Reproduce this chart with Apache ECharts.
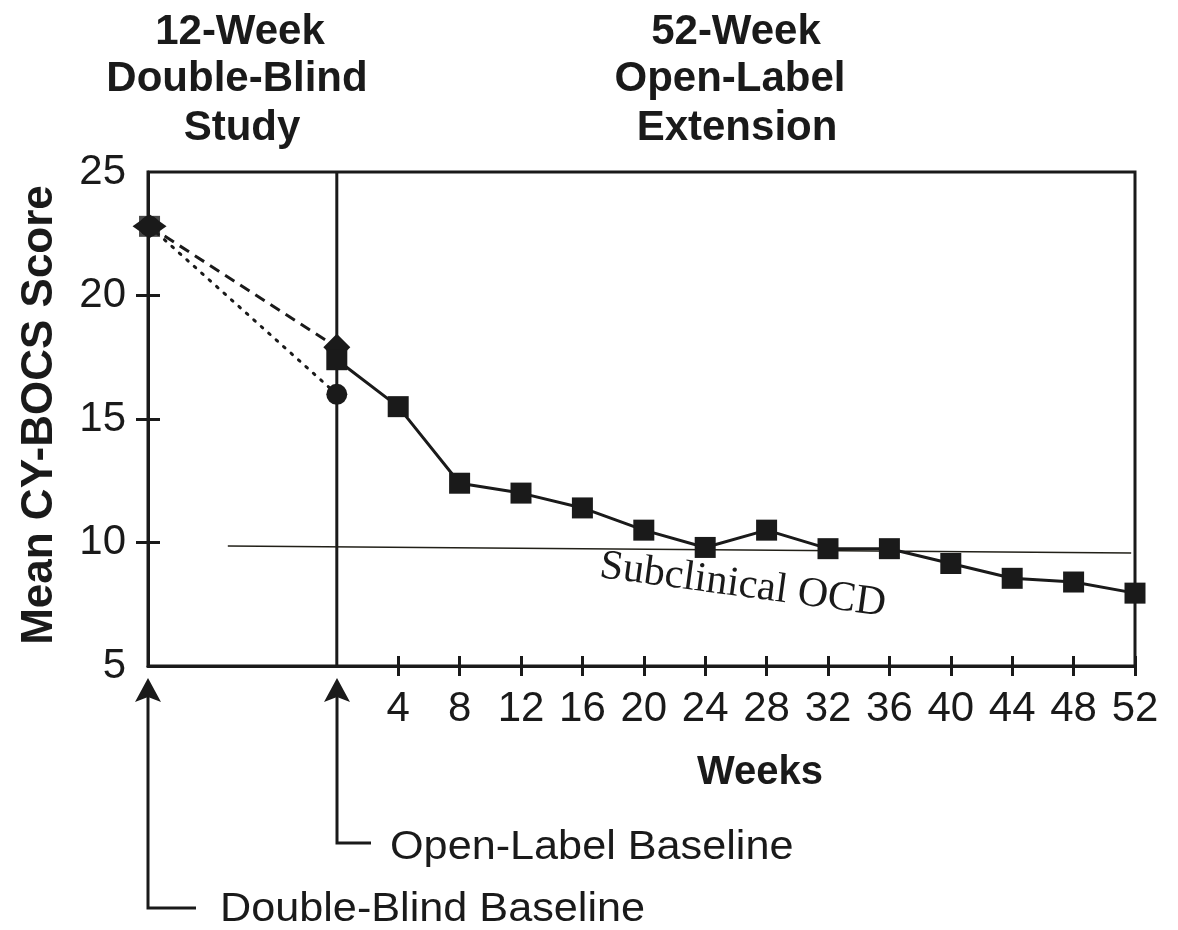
<!DOCTYPE html>
<html><head><meta charset="utf-8">
<script src="https://cdn.jsdelivr.net/npm/echarts@6/dist/echarts.min.js"></script>
<style>html,body{margin:0;padding:0;background:#fff}#c{width:1178px;height:930px}</style>
</head><body><div id="c"></div>
<script>
// ---- data ----
const weeks = [0, 4, 8, 12, 16, 20, 24, 28, 32, 36, 40, 44, 48, 52];
const openLabelScores = [17.4, 15.5, 12.4, 12.0, 11.4, 10.5, 9.8, 10.5, 9.75, 9.75, 9.15, 8.55, 8.4, 7.95];
const doubleBlindBaselineWeek = -12.2;
const doubleBlindBaselineScore = 22.8;
const dashedGroupScores = [22.8, 17.9];   // baseline -> open-label baseline (diamond)
const dottedGroupScores = [22.8, 16.0];   // baseline -> open-label baseline (circle)
const openLabelBaselineWeek = 0;
const weekTickLabels = [4, 8, 12, 16, 20, 24, 28, 32, 36, 40, 44, 48, 52];
const scoreTickLabels = [5, 10, 15, 20, 25];
const scoreInnerTicks = [10, 15, 20];
const subclinicalLine = [[-7.1, 9.86], [51.75, 9.57]];

const INK = '#1a1a1a';
const SANS = '"Liberation Sans", Arial, Helvetica, sans-serif';

const chart = echarts.init(document.getElementById('c'), null, {renderer: 'canvas'});

const gridRect = {left: 148, top: 172, right: 43, bottom: 264};
const xMin = -12.3, xMax = 52;

function txt(text, x, y, opts) {
  opts = opts || {};
  return {
    type: 'text', x: x, y: y, rotation: opts.rotation || 0,
    scaleX: opts.scaleX || 1, z: 100,
    style: {
      text: text, fill: INK,
      font: (opts.weight || 'normal') + ' ' + (opts.size || 40) + 'px ' + (opts.family || SANS),
      align: opts.align || 'center', verticalAlign: 'middle'
    }
  };
}
function arrow(x, yTip, yBottom, xEnd) {
  return [
    {type: 'polyline', z: 100, shape: {points: [[x, yTip + 18], [x, yBottom], [xEnd, yBottom]]},
     style: {stroke: INK, lineWidth: 3, fill: null}},
    {type: 'polygon', z: 100, shape: {points: [[x, yTip], [x - 13, yTip + 24], [x, yTip + 19], [x + 13, yTip + 24]]},
     style: {fill: INK}}
  ];
}

const option = {
  backgroundColor: '#ffffff',
  animation: false,
  grid: [
    Object.assign({show: true, borderColor: INK, borderWidth: 3, backgroundColor: 'transparent'}, gridRect),
    Object.assign({show: false}, gridRect)
  ],
  xAxis: [
    {type: 'value', gridIndex: 0, min: xMin, max: xMax,
     axisLine: {show: true, onZero: false, lineStyle: {color: INK, width: 3}},
     axisTick: {show: true, inside: false, length: 10, lineStyle: {color: INK, width: 3}, customValues: weekTickLabels},
     axisLabel: {show: true, margin: 22, color: INK, fontSize: 42, fontFamily: SANS, customValues: weekTickLabels},
     splitLine: {show: false}},
    {type: 'value', gridIndex: 1, min: xMin, max: xMax, position: 'bottom',
     axisLine: {show: false, onZero: false},
     axisTick: {show: true, inside: true, length: 10, lineStyle: {color: INK, width: 3}, customValues: weekTickLabels},
     axisLabel: {show: false}, splitLine: {show: false}}
  ],
  yAxis: [
    {type: 'value', gridIndex: 0, min: 5, max: 25,
     axisLine: {show: true, onZero: false, lineStyle: {color: INK, width: 3}},
     axisTick: {show: true, inside: false, length: 12, lineStyle: {color: INK, width: 3}, customValues: scoreInnerTicks},
     axisLabel: {show: true, margin: 22, color: INK, fontSize: 42, fontFamily: SANS, customValues: scoreTickLabels},
     splitLine: {show: false}},
    {type: 'value', gridIndex: 1, min: 5, max: 25, position: 'left',
     axisLine: {show: false, onZero: false},
     axisTick: {show: true, inside: true, length: 12, lineStyle: {color: INK, width: 3}, customValues: scoreInnerTicks},
     axisLabel: {show: false}, splitLine: {show: false}}
  ],
  series: [
    {type: 'line', name: 'Open-label baseline marker', xAxisIndex: 0, yAxisIndex: 0,
     data: [[openLabelBaselineWeek, 5], [openLabelBaselineWeek, 25]],
     symbol: 'none', lineStyle: {color: INK, width: 3}, z: 2, silent: true},
    {type: 'line', name: 'Subclinical OCD', xAxisIndex: 0, yAxisIndex: 0,
     data: subclinicalLine, symbol: 'none', lineStyle: {color: '#222018', width: 1.5}, z: 3, silent: true},
    {type: 'line', name: 'Dotted group', xAxisIndex: 0, yAxisIndex: 0,
     data: [[doubleBlindBaselineWeek, dottedGroupScores[0]], [openLabelBaselineWeek, dottedGroupScores[1]]],
     symbol: 'circle', symbolSize: 21, itemStyle: {color: INK},
     lineStyle: {color: INK, width: 3, type: [2, 8], cap: 'round'}, z: 4},
    {type: 'line', name: 'Dashed group', xAxisIndex: 0, yAxisIndex: 0,
     data: [
       {value: [doubleBlindBaselineWeek, dashedGroupScores[0]], symbolSize: [34, 24]},
       {value: [openLabelBaselineWeek, dashedGroupScores[1]], symbolSize: [27, 27]}
     ],
     symbol: 'diamond', itemStyle: {color: INK},
     lineStyle: {color: INK, width: 3, type: [11, 7]}, z: 5},
    {type: 'scatter', name: 'Baseline', xAxisIndex: 0, yAxisIndex: 0,
     data: [[doubleBlindBaselineWeek, doubleBlindBaselineScore]],
     symbol: 'rect', symbolSize: 21, itemStyle: {color: INK}, z: 6},
    {type: 'line', name: 'Open-label extension', xAxisIndex: 0, yAxisIndex: 0,
     data: weeks.map((w, i) => [w, openLabelScores[i]]),
     symbol: 'rect', symbolSize: 21, itemStyle: {color: INK},
     lineStyle: {color: INK, width: 3}, z: 7}
  ],
  graphic: {elements: [
    txt('12-Week', 240, 32, {weight: 'bold', size: 42}),
    txt('Double-Blind', 237, 79, {weight: 'bold', size: 42}),
    txt('Study', 242, 128, {weight: 'bold', size: 42}),
    txt('52-Week', 736, 32, {weight: 'bold', size: 42}),
    txt('Open-Label', 730, 79, {weight: 'bold', size: 42}),
    txt('Extension', 737, 128, {weight: 'bold', size: 42}),
    txt('Mean CY-BOCS Score', 40, 415, {weight: 'bold', size: 44, rotation: Math.PI / 2}),
    txt('Weeks', 760, 773, {weight: 'bold', size: 40}),
    txt('Subclinical OCD', 600, 566, {size: 42, family: '"Liberation Serif", "Times New Roman", serif', align: 'left', rotation: -0.135}),
    txt('Open-Label Baseline', 390, 848, {size: 40, align: 'left', scaleX: 1.08}),
    txt('Double-Blind Baseline', 220, 910, {size: 40, align: 'left', scaleX: 1.08})
  ].concat(arrow(148, 678, 908, 196), arrow(337, 678, 843, 371))}
};
chart.setOption(option);
</script>
</body></html>
